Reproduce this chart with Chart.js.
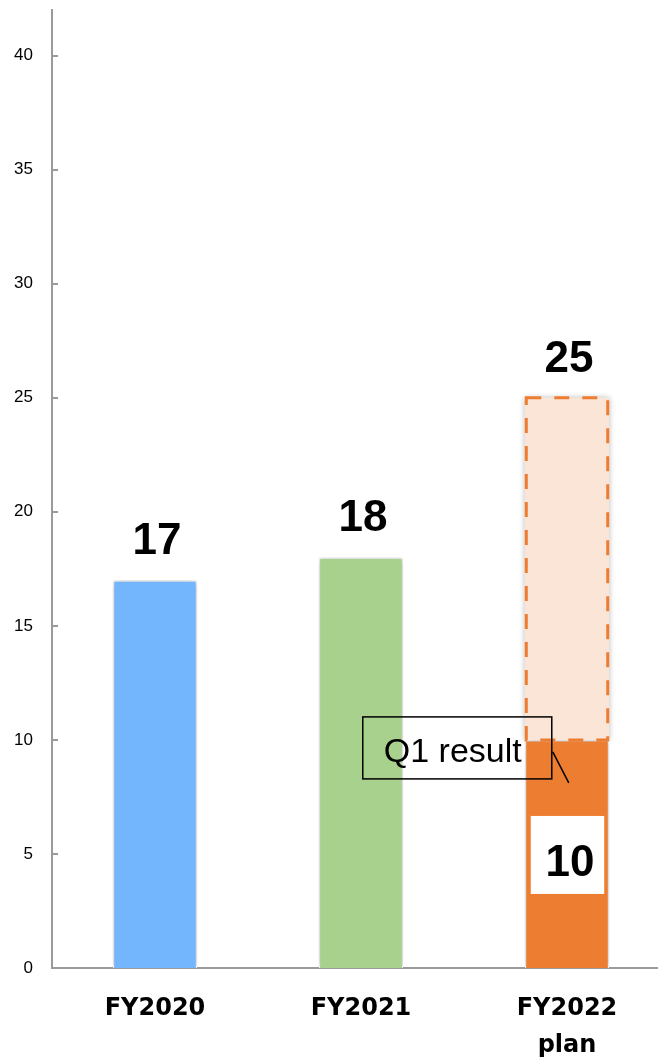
<!DOCTYPE html>
<html lang="en">
<head>
  <meta charset="UTF-8">
  <title>Results by fiscal year</title>
  <script src="https://cdn.jsdelivr.net/npm/chart.js"></script>
  <style>
    body { margin: 0; background: #fff; }
    .frame { width: 658px; height: 1064px; overflow: hidden; }
  </style>
</head>
<body>
  <div class="frame">
    <canvas id="fyChart" width="670" height="1064"></canvas>
  </div>
  <script>
    // chart data
    const categories = [['FY2020'], ['FY2021'], ['FY2022', 'plan']];
    const results = [17, 18, 10];
    const planTotals = [null, null, 25];
    const calloutText = 'Q1 result';

    const axisGray = '#9a9a9a';
    const orange = '#ED7D31';

    // plan part floats from the Q1 result up to the full-year plan
    const planRanges = planTotals.map((v, i) => v == null ? null : [results[i], v]);

    // soft grey shadow behind every bar
    const barShadow = {
      id: 'barShadow',
      beforeDatasetDraw(chart) {
        const ctx = chart.ctx;
        ctx.save();
        ctx.shadowColor = 'rgba(0,0,0,0.3)';
        ctx.shadowBlur = 6;
      },
      afterDatasetDraw(chart) {
        chart.ctx.restore();
      }
    };

    // small tick marks on the inner side of the y axis
    const innerTicks = {
      id: 'innerTicks',
      afterDraw(chart) {
        const ctx = chart.ctx;
        const y = chart.scales.y;
        const left = chart.chartArea.left;
        ctx.save();
        ctx.strokeStyle = axisGray;
        ctx.lineWidth = 2;
        y.ticks.forEach(t => {
          const py = Math.round(y.getPixelForValue(t.value));
          ctx.beginPath();
          ctx.moveTo(left, py);
          ctx.lineTo(left + 6, py);
          ctx.stroke();
        });
        ctx.restore();
      }
    };

    // dashed outline, value labels and the Q1 callout
    const decorations = {
      id: 'decorations',
      afterDatasetsDraw(chart) {
        const ctx = chart.ctx;
        const yScale = chart.scales.y;
        const resMeta = chart.getDatasetMeta(0);
        const planMeta = chart.getDatasetMeta(1);

        ctx.save();

        // dashed border around the plan part
        planMeta.data.forEach((bar, i) => {
          if (planRanges[i] == null) return;
          const left = bar.x - bar.width / 2;
          ctx.save();
          ctx.strokeStyle = orange;
          ctx.lineWidth = 3;
          ctx.setLineDash([15, 13]);
          ctx.strokeRect(left + 1.5, bar.y, bar.width - 3, bar.base - bar.y);
          ctx.restore();
        });

        ctx.fillStyle = '#000';
        ctx.textAlign = 'center';
        ctx.textBaseline = 'alphabetic';
        ctx.font = 'bold 44px "Liberation Sans", Arial, sans-serif';

        // totals above each column
        resMeta.data.forEach((bar, i) => {
          let top = bar.y;
          let value = results[i];
          if (planTotals[i] != null) {
            top = planMeta.data[i].y;
            value = planTotals[i];
          }
          ctx.fillText(String(value), bar.x + 2, top - 26);
        });

        // Q1 result value in a white box inside the solid part
        resMeta.data.forEach((bar, i) => {
          if (planTotals[i] == null) return;
          const midY = yScale.getPixelForValue(results[i] / 2);
          const left = bar.x - bar.width / 2;
          ctx.fillStyle = '#fff';
          ctx.fillRect(left + 6, midY - 38, bar.width - 11, 78);
          ctx.fillStyle = '#000';
          ctx.fillText(String(results[i]), bar.x + 3, midY + 22);

          // callout box to the left of the bar
          const yv = yScale.getPixelForValue(results[i]);
          const boxRight = left + 27;
          const boxLeft = boxRight - 189;
          const boxTop = yv - 23;
          ctx.strokeStyle = '#000';
          ctx.lineWidth = 1.5;
          ctx.strokeRect(boxLeft, boxTop, 189, 62);
          ctx.font = '34px "Liberation Sans", Arial, sans-serif';
          ctx.textAlign = 'left';
          ctx.fillText(calloutText, boxLeft + 21, yv + 22);
          ctx.beginPath();
          ctx.moveTo(boxRight + 1, yv + 12);
          ctx.lineTo(boxRight + 17, yv + 43);
          ctx.stroke();
        });

        ctx.restore();
      }
    };

    new Chart(document.getElementById('fyChart').getContext('2d'), {
      type: 'bar',
      data: {
        labels: categories,
        datasets: [
          {
            data: results,
            backgroundColor: ['#73B6FE', '#A9D18E', orange],
            borderColor: '#fff',
            borderWidth: 1.5,
            grouped: false,
            barPercentage: 0.41,
            categoryPercentage: 1
          },
          {
            data: planRanges,
            backgroundColor: '#FBE5D6',
            borderWidth: 0,
            grouped: false,
            barPercentage: 0.41,
            categoryPercentage: 1
          }
        ]
      },
      options: {
        responsive: false,
        devicePixelRatio: 1,
        animation: false,
        layout: { padding: { top: 10, left: 0, right: 0, bottom: 0 } },
        plugins: {
          legend: { display: false },
          tooltip: { enabled: false }
        },
        scales: {
          x: {
            grid: { display: false, drawTicks: false },
            border: { color: axisGray, width: 2 },
            ticks: {
              color: '#000',
              padding: 22,
              font: { family: '"DejaVu Sans", Verdana, sans-serif', size: 24, weight: 'bold', lineHeight: 1.55 }
            },
            afterFit(scale) { scale.height = 96; }
          },
          y: {
            min: 0,
            max: 42,
            grid: { display: false, drawTicks: false },
            border: { color: axisGray, width: 2 },
            ticks: {
              stepSize: 5,
              includeBounds: false,
              color: '#000',
              padding: 19,
              font: { family: '"Liberation Sans", Arial, sans-serif', size: 17 }
            },
            afterFit(scale) {
              scale.width = 52;
              scale.paddingTop = 0;
              scale.paddingBottom = 0;
            }
          }
        }
      },
      plugins: [barShadow, innerTicks, decorations]
    });
  </script>
</body>
</html>
